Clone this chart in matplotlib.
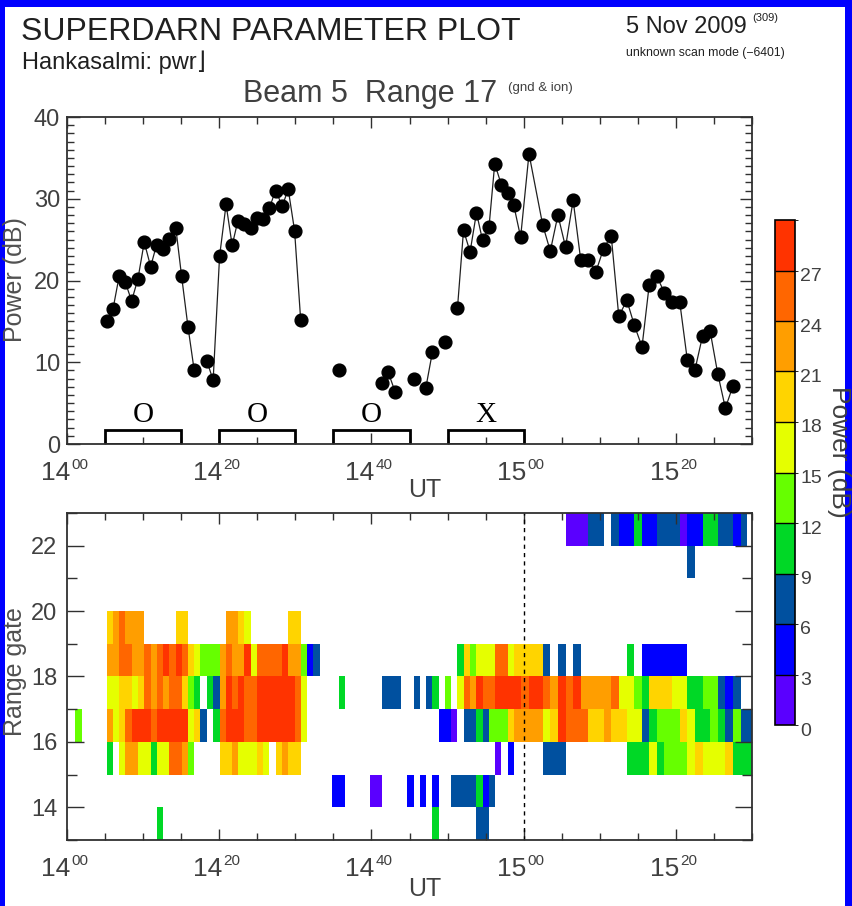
import numpy as np
import matplotlib
matplotlib.use("Agg")
import matplotlib.pyplot as plt
from matplotlib.colors import ListedColormap, BoundaryNorm
from matplotlib.patches import Rectangle
import matplotlib.transforms as mtransforms
import matplotlib.colorbar as mcolorbar

# ---------------------------------------------------------------- data
# Scan boundaries, minutes after 14:00 UT; each scan lasts until the next entry.
scan_edges = [1.05, 2.0, 5.2, 6.04, 6.87, 7.66, 8.49, 9.32, 10.15, 10.99, 11.78,
              12.6, 13.4, 14.3, 15.06, 15.9, 16.7, 17.5, 18.4, 19.2, 20.05, 20.9,
              21.7, 22.45, 23.3, 24.2, 24.95, 25.8, 26.6, 27.4, 28.3, 29.06, 29.9,
              30.7, 31.5, 32.3, 33.2, 34.8, 35.7, 36.5, 39.8, 40.6, 41.4, 42.2,
              43.1, 43.9, 44.7, 45.6, 46.4, 47.15, 48.0, 48.9, 49.7, 50.5, 51.3,
              52.1, 52.96, 53.8, 54.6, 55.45, 56.2, 57.07, 57.9, 58.7, 59.6, 60.7,
              62.5, 63.5, 64.5, 65.5, 66.5, 67.5, 68.5, 69.5, 70.5, 71.5, 72.5,
              73.55, 74.55, 75.55, 76.5, 77.5, 78.5, 79.55, 80.5, 81.5, 82.5, 83.5,
              84.5, 85.5, 86.5, 87.5, 88.5, 89.4, 90.0]

# Beam 5, range 17: scan time (min after 14:00 UT) and power (dB)
pwr_time = [5.2, 6.04, 6.87, 7.66, 8.49, 9.32, 10.15, 10.99, 11.78, 12.6, 13.4,
            14.3, 15.06, 15.9, 16.7, 18.4, 19.2, 20.05, 20.9, 21.7, 22.45, 23.3,
            24.2, 24.95, 25.8, 26.6, 27.4, 28.3, 29.06, 29.9, 30.7, 35.7, 41.4,
            42.2, 43.1, 45.6, 47.15, 48.0, 49.7, 51.3, 52.1, 52.96, 53.8, 54.6,
            55.45, 56.2, 57.07, 57.9, 58.7, 59.6, 60.7, 62.5, 63.5, 64.5, 65.5,
            66.5, 67.5, 68.5, 69.5, 70.5, 71.5, 72.5, 73.55, 74.55, 75.55, 76.5,
            77.5, 78.5, 79.55, 80.5, 81.5, 82.5, 83.5, 84.5, 85.5, 86.5, 87.5]
pwr_db = [15.0, 16.5, 20.6, 19.8, 17.5, 20.2, 24.7, 21.7, 24.4, 23.9, 25.1,
          26.4, 20.5, 14.3, 9.1, 10.1, 7.8, 23.0, 29.3, 24.3, 27.3, 26.9,
          26.4, 27.6, 27.5, 28.9, 31.0, 29.1, 31.2, 26.1, 15.2, 9.1, 7.5,
          8.8, 6.4, 7.9, 6.9, 11.2, 12.45, 16.6, 26.15, 23.5, 28.3, 24.9,
          26.6, 34.3, 31.7, 30.7, 29.2, 25.3, 35.5, 26.8, 23.6, 28.0, 24.1,
          29.8, 22.5, 22.5, 21.1, 23.9, 25.5, 15.6, 17.6, 14.5, 11.9, 19.5,
          20.5, 18.5, 17.4, 17.4, 10.3, 9.05, 13.2, 13.8, 8.6, 4.4, 7.1]

# Power (dB) in the other range gates, keyed by scan start time
gate13 = {11.78: 10.5, 48.0: 10.5, 53.8: 7.5, 54.6: 7.5}
gate14 = {34.8: 4.5, 35.7: 4.5, 39.8: 1.5, 40.6: 1.5, 44.7: 4.5, 46.4: 4.5,
          48.0: 4.5, 50.5: 7.5, 51.3: 7.5, 52.1: 7.5, 52.96: 7.5, 53.8: 10.5,
          54.6: 4.5, 55.45: 7.5}
gate15 = {5.2: 10.5, 6.87: 16.5, 7.66: 22.5, 8.49: 22.5, 9.32: 16.5, 10.15: 16.5,
          10.99: 10.5, 11.78: 16.5, 12.6: 16.5, 13.4: 25.5, 14.3: 25.5, 15.06: 22.5,
          15.9: 13.5, 20.05: 19.5, 20.9: 19.5, 21.7: 22.5, 22.45: 16.5, 23.3: 16.5,
          24.2: 16.5, 24.95: 19.5, 25.8: 16.5, 27.4: 19.5, 28.3: 22.5, 29.06: 19.5,
          29.9: 19.5, 56.2: 1.5, 57.9: 4.5, 62.5: 7.5, 63.5: 7.5, 64.5: 7.5,
          73.55: 10.5, 74.55: 10.5, 75.55: 10.5, 76.5: 16.5, 77.5: 10.5, 78.5: 13.5,
          79.55: 13.5, 80.5: 13.5, 81.5: 16.5, 82.5: 19.5, 83.5: 16.5, 84.5: 16.5,
          85.5: 16.5, 86.5: 19.5, 87.5: 10.5, 88.5: 10.5, 89.4: 10.5}
gate16 = {1.05: 13.5, 5.2: 22.5, 6.04: 16.5, 6.87: 19.5, 7.66: 25.5, 8.49: 28.5,
          9.32: 28.5, 10.15: 28.5, 10.99: 25.5, 11.78: 28.5, 12.6: 28.5, 13.4: 28.5,
          14.3: 28.5, 15.06: 28.5, 15.9: 16.5, 16.7: 19.5, 17.5: 7.5, 19.2: 10.5,
          20.05: 25.5, 20.9: 28.5, 21.7: 28.5, 22.45: 28.5, 23.3: 25.5, 24.2: 25.5,
          24.95: 28.5, 25.8: 28.5, 26.6: 28.5, 27.4: 28.5, 28.3: 28.5, 29.06: 28.5,
          29.9: 25.5, 30.7: 16.5, 48.9: 4.5, 49.7: 4.5, 50.5: 1.5, 52.1: 7.5,
          52.96: 7.5, 53.8: 10.5, 54.6: 7.5, 55.45: 13.5, 56.2: 13.5, 57.07: 13.5,
          57.9: 19.5, 58.7: 22.5, 59.6: 22.5, 60.7: 22.5, 62.5: 16.5, 63.5: 19.5,
          64.5: 28.5, 65.5: 25.5, 66.5: 25.5, 67.5: 25.5, 68.5: 19.5, 69.5: 19.5,
          70.5: 22.5, 71.5: 19.5, 72.5: 19.5, 73.55: 16.5, 74.55: 16.5, 75.55: 7.5,
          76.5: 10.5, 77.5: 13.5, 78.5: 13.5, 79.55: 13.5, 80.5: 19.5, 81.5: 16.5,
          82.5: 10.5, 83.5: 10.5, 84.5: 13.5, 85.5: 10.5, 86.5: 7.5, 87.5: 13.5,
          88.5: 7.5, 89.4: 7.5}
gate18 = {5.2: 22.5, 6.04: 22.5, 6.87: 25.5, 7.66: 25.5, 8.49: 22.5, 9.32: 22.5,
          10.15: 25.5, 10.99: 22.5, 11.78: 25.5, 12.6: 28.5, 13.4: 25.5, 14.3: 28.5,
          15.06: 25.5, 15.9: 19.5, 16.7: 16.5, 17.5: 13.5, 18.4: 13.5, 19.2: 13.5,
          20.05: 22.5, 20.9: 25.5, 21.7: 22.5, 22.45: 22.5, 23.3: 28.5, 24.2: 16.5,
          24.95: 25.5, 25.8: 25.5, 26.6: 25.5, 27.4: 25.5, 28.3: 28.5, 29.06: 22.5,
          29.9: 22.5, 30.7: 13.5, 31.5: 4.5, 32.3: 7.5, 51.3: 10.5, 52.1: 19.5,
          52.96: 13.5, 53.8: 16.5, 54.6: 16.5, 55.45: 16.5, 56.2: 25.5, 57.07: 25.5,
          57.9: 16.5, 58.7: 19.5, 59.6: 19.5, 60.7: 19.5, 62.5: 7.5, 64.5: 7.5,
          66.5: 7.5, 73.55: 10.5, 75.55: 4.5, 76.5: 4.5, 77.5: 4.5, 78.5: 4.5,
          79.55: 4.5, 80.5: 4.5}
gate19 = {5.2: 19.5, 6.04: 22.5, 6.87: 25.5, 7.66: 22.5, 8.49: 22.5, 9.32: 22.5,
          14.3: 19.5, 15.06: 19.5, 20.9: 22.5, 21.7: 22.5, 22.45: 19.5, 23.3: 16.5,
          29.06: 19.5, 29.9: 19.5}
gate21 = {81.5: 7.5}
gate22 = {65.5: 1.5, 66.5: 1.5, 67.5: 1.5, 68.5: 7.5, 69.5: 7.5, 71.5: 7.5,
          72.5: 4.5, 73.55: 4.5, 74.55: 10.5, 75.55: 4.5, 76.5: 4.5, 77.5: 7.5,
          78.5: 7.5, 79.55: 7.5, 80.5: 1.5, 81.5: 4.5, 82.5: 4.5, 83.5: 10.5,
          84.5: 10.5, 85.5: 7.5, 86.5: 7.5, 87.5: 4.5, 88.5: 7.5}

# Frequency-band periods along the bottom of the power panel
band_start = [5, 20, 35, 50]
band_end = [15, 30, 45, 60]
band_mode = ["O", "O", "O", "X"]

# Colour scale (dB)
level_edges = [0, 3, 6, 9, 12, 15, 18, 21, 24, 27, 30]
level_colors = ["#5a00ff", "#0000ff", "#00509f", "#00d826", "#66ff00",
                "#e5ff00", "#ffd400", "#ff9e00", "#ff6600", "#ff3300"]

# ---------------------------------------------------------------- helpers
W, H = 852, 906
INK = "#303030"
SANS = ["Liberation Sans Narrow", "Liberation Sans", "DejaVu Sans"]
plt.rcParams["font.family"] = SANS


def fx(px):
    return px / W


def fy(py):
    return 1 - py / H


fig = plt.figure(figsize=(W / 100, H / 100), dpi=100, facecolor="#0000ff")
fig.patches.append(Rectangle((fx(5), 0), fx(W - 12), fy(7), transform=fig.transFigure,
                             facecolor="white", edgecolor="none", zorder=-10))

# ---------------------------------------------------------------- header text
fig.text(fx(21), fy(40), "SUPERDARN PARAMETER PLOT", fontsize=23, color="#202020",
         ha="left", va="baseline")
fig.text(fx(22), fy(69), "Hankasalmi: pwr\u230b", fontsize=17, color="#202020",
         ha="left", va="baseline")
fig.text(fx(243), fy(102), "Beam 5  Range 17", fontsize=22, color="#404040",
         ha="left", va="baseline")
fig.text(fx(508), fy(91), "(gnd & ion)", fontsize=9.5, color="#404040",
         ha="left", va="baseline")
fig.text(fx(626), fy(33), "5 Nov 2009", fontsize=17, color="#202020",
         ha="left", va="baseline")
fig.text(fx(752), fy(21), "(309)", fontsize=8, color="#202020",
         ha="left", va="baseline")
fig.text(fx(626), fy(56), "unknown scan mode (\u22126401)", fontsize=8.8,
         color="#202020", ha="left", va="baseline")

# ---------------------------------------------------------------- axes
ax1 = fig.add_axes([fx(67), fy(444), fx(752 - 67), (444 - 117) / H])
ax2 = fig.add_axes([fx(67), fy(840), fx(752 - 67), (840 - 513) / H])
cax = fig.add_axes([fx(775), fy(725), fx(20), (725 - 220) / H])

major_t = [0, 20, 40, 60, 80]


def style_time_axis(ax):
    ax.set_xlim(0, 90)
    ax.set_xticks(major_t)
    ax.set_xticks(np.arange(0, 91, 5), minor=True)
    ax.tick_params(axis="x", which="both", direction="in", top=True, bottom=True,
                   labelbottom=False, color=INK, width=1.0)
    ax.tick_params(axis="x", which="major", length=8)
    ax.tick_params(axis="x", which="minor", length=5)
    for sp in ax.spines.values():
        sp.set_color(INK)
        sp.set_linewidth(1.3)
    trans = mtransforms.blended_transform_factory(ax.transData, ax.transAxes)
    for m in major_t:
        hh = 14 + m // 60
        mm = m % 60
        t1 = mtransforms.offset_copy(trans, fig=fig, x=3, y=-17, units="dots")
        t2 = mtransforms.offset_copy(trans, fig=fig, x=4, y=-14, units="dots")
        ax.text(m, 0, f"{hh}", transform=t1, ha="right", va="top", fontsize=19,
                color="#404040")
        ax.text(m, 0, f"{mm:02d}", transform=t2, ha="left", va="top", fontsize=11,
                color="#404040")


# ---- top: power at range 17
style_time_axis(ax1)
ax1.set_ylim(0, 40)
ax1.set_yticks([0, 10, 20, 30, 40])
ax1.set_yticks(np.arange(0, 41, 1), minor=True)
ax1.tick_params(axis="y", which="both", direction="in", left=True, right=True,
                color=INK, width=1.0, labelsize=17, labelcolor="#404040", pad=5)
ax1.tick_params(axis="y", which="major", length=9)
ax1.tick_params(axis="y", which="minor", length=5)

starts = np.array(scan_edges[:-1])


def col(t):
    return int(np.argmin(np.abs(starts - t)))


pt_col = np.array([col(t) for t in pwr_time])
pt_t = np.array(pwr_time)
pt_p = np.array(pwr_db)
breaks = np.where(np.diff(pt_col) != 1)[0] + 1
for seg in np.split(np.arange(len(pt_t)), breaks):
    ax1.plot(pt_t[seg], pt_p[seg], color="#202020", lw=0.9, zorder=3)
ax1.plot(pt_t, pt_p, "o", color="black", ms=9.2, zorder=4)

for s, e, m in zip(band_start, band_end, band_mode):
    ax1.add_patch(Rectangle((s, 0), e - s, 1.7, facecolor="none", edgecolor="black",
                            lw=2.0, zorder=2))
    ax1.text((s + e) / 2, 3.6, m, ha="center", va="center", fontsize=21,
             family=["Liberation Serif", "DejaVu Serif"], color="black")

fig.text(fx(15), fy(280), "Power (dB)", rotation=90, ha="center", va="center",
         fontsize=18, color="#505050")
fig.text(fx(425), fy(490), "UT", ha="center", va="center", fontsize=18,
         color="#404040")

# ---- bottom: range-time power
style_time_axis(ax2)
ax2.set_ylim(13, 23)
ax2.set_yticks([14, 16, 18, 20, 22])
ax2.set_yticks(np.arange(13, 24, 1), minor=True)
ax2.tick_params(axis="y", which="both", direction="in", left=True, right=True,
                color=INK, width=1.0, labelsize=17, labelcolor="#404040", pad=7)
ax2.tick_params(axis="y", which="major", length=12)
ax2.tick_params(axis="y", which="minor", length=7)

gate_rows = {13: gate13, 14: gate14, 15: gate15, 16: gate16, 18: gate18,
             19: gate19, 21: gate21, 22: gate22}
gates = np.arange(13, 24)
Z = np.full((len(gates) - 1, len(starts)), np.nan)
for g, row in gate_rows.items():
    for t, v in row.items():
        Z[g - 13, col(t)] = v
for t, v in zip(pwr_time, pwr_db):
    Z[17 - 13, col(t)] = v

cmap = ListedColormap(level_colors)
cmap.set_over(level_colors[-1])
cmap.set_under(level_colors[0])
norm = BoundaryNorm(level_edges, cmap.N)
ax2.pcolormesh(scan_edges, gates, np.ma.masked_invalid(Z), cmap=cmap, norm=norm,
               shading="flat", antialiased=False, edgecolors="none", zorder=1)
ax2.axvline(60, color="black", lw=1.0, ls=(0, (3, 3)), zorder=2)

fig.text(fx(15), fy(672), "Range gate", rotation=90, ha="center", va="center",
         fontsize=18, color="#505050")
fig.text(fx(425), fy(889), "UT", ha="center", va="center", fontsize=18,
         color="#404040")

# ---- colour bar
cb = mcolorbar.ColorbarBase(cax, cmap=cmap, norm=norm, boundaries=level_edges,
                            orientation="vertical", drawedges=True)
cb.outline.set_edgecolor("black")
cb.outline.set_linewidth(1.2)
cb.dividers.set_color("black")
cb.dividers.set_linewidth(1.0)
cax.set_yticks([])
ctrans = mtransforms.blended_transform_factory(cax.transAxes, cax.transData)
for v in level_edges[:-1]:
    tr = mtransforms.offset_copy(ctrans, fig=fig, x=5, y=-6, units="dots")
    cax.text(1.0, v, f"{v}", transform=tr, ha="left", va="center", fontsize=14,
             color="#404040")
fig.text(fx(839), fy(452), "Power (dB)", rotation=270, ha="center", va="center",
         fontsize=19, color="#404040")

fig.savefig("out.png", dpi=100, facecolor=fig.get_facecolor())
